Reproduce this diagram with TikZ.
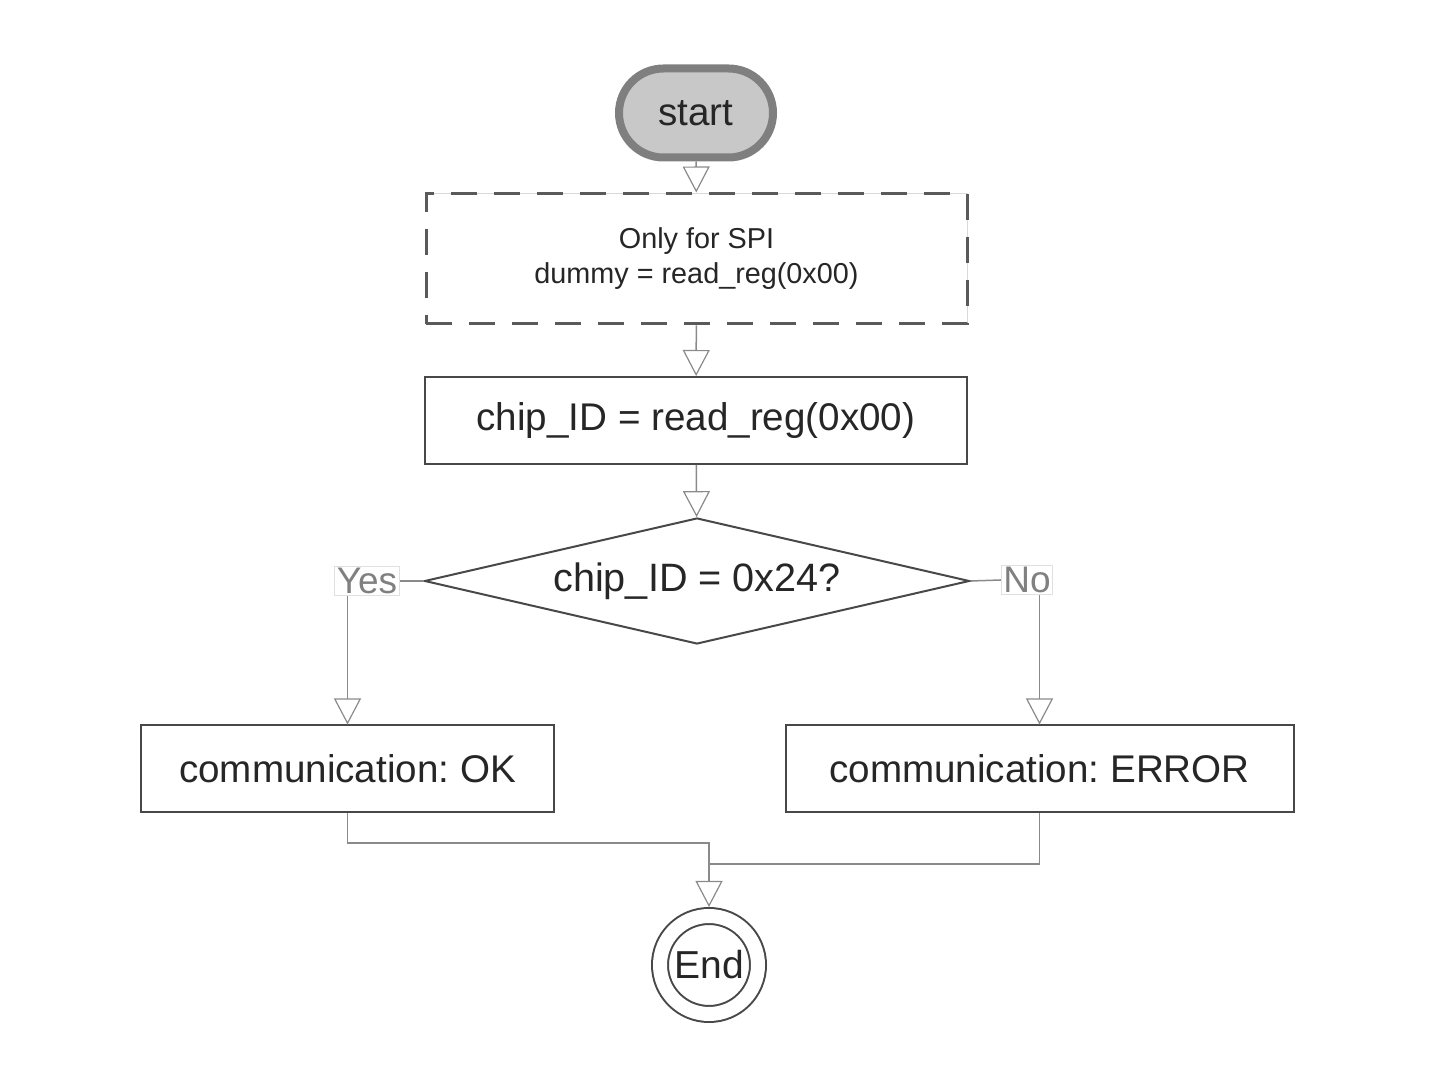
\documentclass[tikz,border=0pt]{standalone}
\usepackage{fontspec}
\setmainfont{Liberation Sans}
\usetikzlibrary{arrows.meta,shapes.geometric,shapes.misc}
\frenchspacing
\definecolor{boxline}{HTML}{484848}
\definecolor{connline}{HTML}{8A8A8A}
\definecolor{txt}{HTML}{262626}
\definecolor{startfill}{HTML}{C8C8C8}
\definecolor{startline}{HTML}{7F7F7F}
\tikzset{
  procbox/.style={draw=boxline, line width=1pt, fill=white, inner sep=0pt, text=txt,
    font=\fontsize{19.3}{23}\selectfont},
  conn/.style={draw=connline, line width=0.75pt},
  tip/.style={-{Triangle[open, length=13pt, width=13.5pt, line width=0.6pt]}},
  lbl/.style={draw=black!12, line width=0.5pt, fill=white, text=black!50, inner sep=1pt,
    font=\fontsize{18.5}{22}\selectfont},
}
\begin{document}
\begin{tikzpicture}[x=0.5pt,y=-0.5pt]
\useasboundingbox (0,0) rectangle (1430,1068);
% start
\node[rounded rectangle, draw=startline, line width=4pt, fill=startfill,
  minimum width=77pt, minimum height=44.5pt, inner sep=0pt, text=txt,
  font=\fontsize{19.3}{23}\selectfont] (start) at (696,113) {start};
% dashed box
\node[procbox, draw=boxline!90, line width=1.5pt, dash pattern=on 13pt off 8.5pt,
  preaction={draw=black!15, line width=0.5pt, solid},
  minimum width=270.5pt, minimum height=65pt, align=center,
  font=\fontsize{14.4}{17.5}\selectfont] (spi) at (696.5,259)
  {Only for SPI\\dummy = read\_reg(0x00)};
% chip id box
\node[procbox, minimum width=271pt, minimum height=43.5pt] (chip) at (696,420.5)
  {chip\_ID = read\_reg(0x00)};
% decision
\node[diamond, shape aspect=4.33, draw=boxline, line width=1pt, fill=white, inner sep=0pt, text=txt,
  minimum width=272.5pt, minimum height=63pt,
  font=\fontsize{19.8}{23}\selectfont] (dec) at (697,581) {chip\_ID = 0x24?};
% labels
\node[lbl] (yes) at (367,581) {Yes};
\node[lbl] (no) at (1027,580) {No};
% result boxes
\node[procbox, minimum width=206.5pt, minimum height=43.5pt] (ok) at (347.5,769)
  {communication: OK};
\node[procbox, minimum width=254pt, minimum height=43.5pt] (err) at (1039.5,769)
  {communication: ERROR};
% end
\node[circle, draw=boxline, line width=1pt, double, double distance=7pt,
  minimum size=49pt, inner sep=0pt, outer sep=4.5pt, text=txt,
  font=\fontsize{19.5}{23}\selectfont] (end) at (709,965) {End};
% junctions
\coordinate (j1) at (709,843);
\coordinate (j2) at (709,864);
% connectors
\draw[conn, tip] (start) -- (spi);
\draw[conn, tip] (spi) -- (chip);
\draw[conn, tip] (chip) -- (dec);
\draw[conn] (dec.west) -- (yes.east);
\draw[conn] (dec.east) -- (no.west);
\draw[conn, tip] (yes.south -| ok.north) -- (ok.north);
\draw[conn, tip] (no.south -| err.north) -- (err.north);
\draw[conn, tip] (ok.south) |- (j1) -- (end.north);
\draw[conn] (err.south) |- (j2);
\end{tikzpicture}
\end{document}
